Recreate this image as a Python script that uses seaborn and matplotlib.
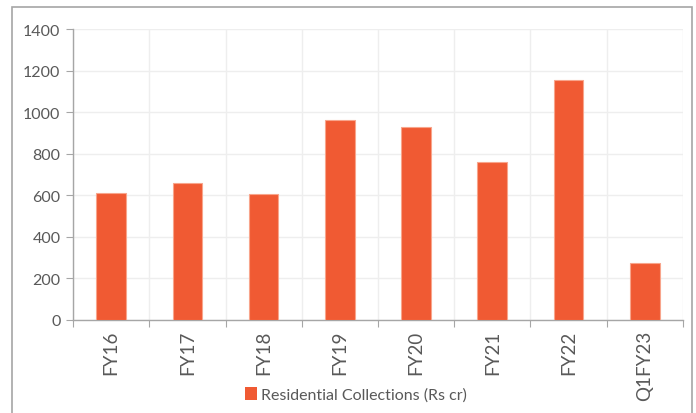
import matplotlib
matplotlib.use("Agg")
import matplotlib.pyplot as plt
import seaborn as sns
import pandas as pd
from matplotlib.patches import Rectangle, Patch

categories = ["FY16", "FY17", "FY18", "FY19", "FY20", "FY21", "FY22", "Q1FY23"]
collections = [612, 659, 608, 962, 928, 758, 1156, 272]
series_name = "Residential Collections (Rs cr)"
y_ticks = [0, 200, 400, 600, 800, 1000, 1200, 1400]

bar_color = "#F05A33"
text_color = "#595959"
grid_color = "#EEEEEE"
axis_color = "#A6A6A6"

sns.set_theme(style="white")
plt.rcParams["font.family"] = ["Lato", "DejaVu Sans"]

df = pd.DataFrame({"period": categories, "value": collections})

fig = plt.figure(figsize=(6.96, 4.14), dpi=100)
ax = fig.add_axes([0.1049, 0.2254, 0.8764, 0.7014])

sns.barplot(data=df, x="period", y="value", color=bar_color, width=0.39,
            edgecolor="#F8A58C", linewidth=0.8, saturation=1, ax=ax, zorder=3)

ax.set_ylim(0, 1400)
ax.set_xlim(-0.5, len(categories) - 0.5)
ax.set_yticks(y_ticks)
ax.set_yticklabels([str(v) for v in y_ticks])
ax.set_xlabel("")
ax.set_ylabel("")

# category boundaries carry the x tick marks and vertical gridlines
bounds = [i - 0.5 for i in range(len(categories) + 1)]
ax.set_xticks(bounds, minor=True)
ax.tick_params(axis="x", which="major", length=0, pad=7, labelrotation=90,
               labelsize=13.5, labelcolor=text_color)
ax.tick_params(axis="x", which="minor", length=5, width=0.8, color=axis_color,
               direction="out", bottom=True)
ax.tick_params(axis="y", which="major", length=5, width=0.8, color=axis_color,
               direction="out", left=True, labelsize=11.5, labelcolor=text_color, pad=4)

ax.grid(False)
ax.xaxis.grid(True, which="minor", color=grid_color, linewidth=1, zorder=0)
ax.yaxis.grid(True, which="major", color=grid_color, linewidth=1, zorder=0)
ax.set_axisbelow(True)

for side in ("top", "right"):
    ax.spines[side].set_visible(False)
for side in ("left", "bottom"):
    ax.spines[side].set_color(axis_color)
    ax.spines[side].set_linewidth(1.0)

handle = Patch(facecolor=bar_color, edgecolor="none")
fig.legend([handle], [series_name], loc="center", bbox_to_anchor=(0.512, 0.045),
           frameon=False, fontsize=11.5, labelcolor=text_color,
           handlelength=0.7, handleheight=0.9, handletextpad=0.3)

# outer chart border
fig.patches.append(Rectangle((12 / 696, -0.05), 680 / 696, 1 - 8 / 414 + 0.05,
                             transform=fig.transFigure, fill=False,
                             edgecolor="#A6A6A6", linewidth=1.2))

fig.savefig("out.png", dpi=100)
